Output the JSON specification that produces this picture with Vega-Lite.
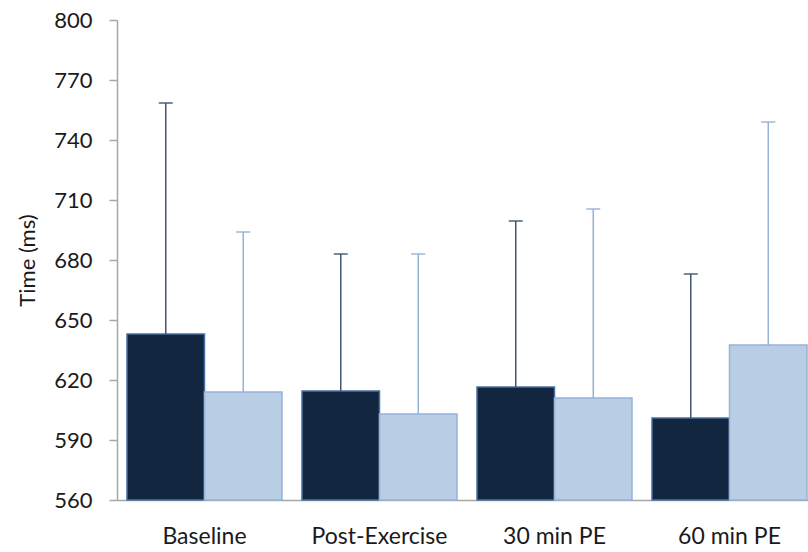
{
  "$schema": "https://vega.github.io/schema/vega-lite/v6.json",
  "width": 700,
  "height": 480,
  "autosize": {"type": "none"},
  "padding": {"left": 117, "top": 20, "right": 0, "bottom": 52},
  "background": "white",
  "config": {"view": {"stroke": null}, "font": "Lato"},
  "data": {
    "values": [
      {"cat": "Baseline", "group": "Group 1", "mean": 643, "upper": 758.5},
      {"cat": "Baseline", "group": "Group 2", "mean": 614, "upper": 694},
      {"cat": "Post-Exercise", "group": "Group 1", "mean": 614.5, "upper": 683},
      {"cat": "Post-Exercise", "group": "Group 2", "mean": 603, "upper": 683},
      {"cat": "30 min PE", "group": "Group 1", "mean": 616.5, "upper": 699.5},
      {"cat": "30 min PE", "group": "Group 2", "mean": 611, "upper": 705.5},
      {"cat": "60 min PE", "group": "Group 1", "mean": 601, "upper": 673},
      {"cat": "60 min PE", "group": "Group 2", "mean": 637.5, "upper": 749}
    ]
  },
  "encoding": {
    "x": {
      "field": "cat",
      "type": "nominal",
      "sort": ["Baseline", "Post-Exercise", "30 min PE", "60 min PE"],
      "scale": {"paddingInner": 0.1143, "paddingOuter": 0.0571},
      "axis": {
        "title": null,
        "labelAngle": 0,
        "ticks": false,
        "labelFontSize": 23,
        "labelColor": "#1a1a1a",
        "labelPadding": 25,
        "domainColor": "#A6A6A6",
        "domainWidth": 1.5
      }
    },
    "xOffset": {
      "field": "group",
      "type": "nominal",
      "scale": {"paddingInner": 0, "paddingOuter": 0}
    }
  },
  "layer": [
    {
      "mark": {"type": "bar", "strokeWidth": 1.5},
      "encoding": {
        "y": {
          "field": "mean",
          "type": "quantitative",
          "scale": {"domain": [560, 800], "zero": false, "nice": false},
          "axis": {
            "title": "Time (ms)",
            "titleFontSize": 22,
            "titleFontWeight": "normal",
            "titleColor": "#1a1a1a",
            "titlePadding": 14,
            "values": [560, 590, 620, 650, 680, 710, 740, 770, 800],
            "grid": false,
            "tickSize": 8,
            "tickColor": "#A6A6A6",
            "tickWidth": 1.5,
            "domainColor": "#A6A6A6",
            "domainWidth": 1.5,
            "labelFontSize": 22,
            "labelColor": "#1a1a1a",
            "labelPadding": 17
          }
        },
        "y2": {"datum": 560},
        "fill": {
          "field": "group",
          "type": "nominal",
          "scale": {"range": ["#132640", "#B9CDE5"]},
          "legend": null
        },
        "stroke": {
          "field": "group",
          "type": "nominal",
          "scale": {"range": ["#4A6FA0", "#95B3D7"]},
          "legend": null
        }
      }
    },
    {
      "mark": {"type": "rule", "strokeWidth": 1.5},
      "encoding": {
        "y": {"field": "mean", "type": "quantitative"},
        "y2": {"field": "upper"},
        "color": {
          "field": "group",
          "type": "nominal",
          "scale": {"range": ["#3F5573", "#95B3D7"]},
          "legend": null
        }
      }
    },
    {
      "mark": {"type": "tick", "size": 14, "thickness": 2},
      "encoding": {
        "y": {"field": "upper", "type": "quantitative"},
        "color": {
          "field": "group",
          "type": "nominal",
          "legend": null
        }
      }
    }
  ],
  "resolve": {"scale": {"stroke": "independent"}}
}
